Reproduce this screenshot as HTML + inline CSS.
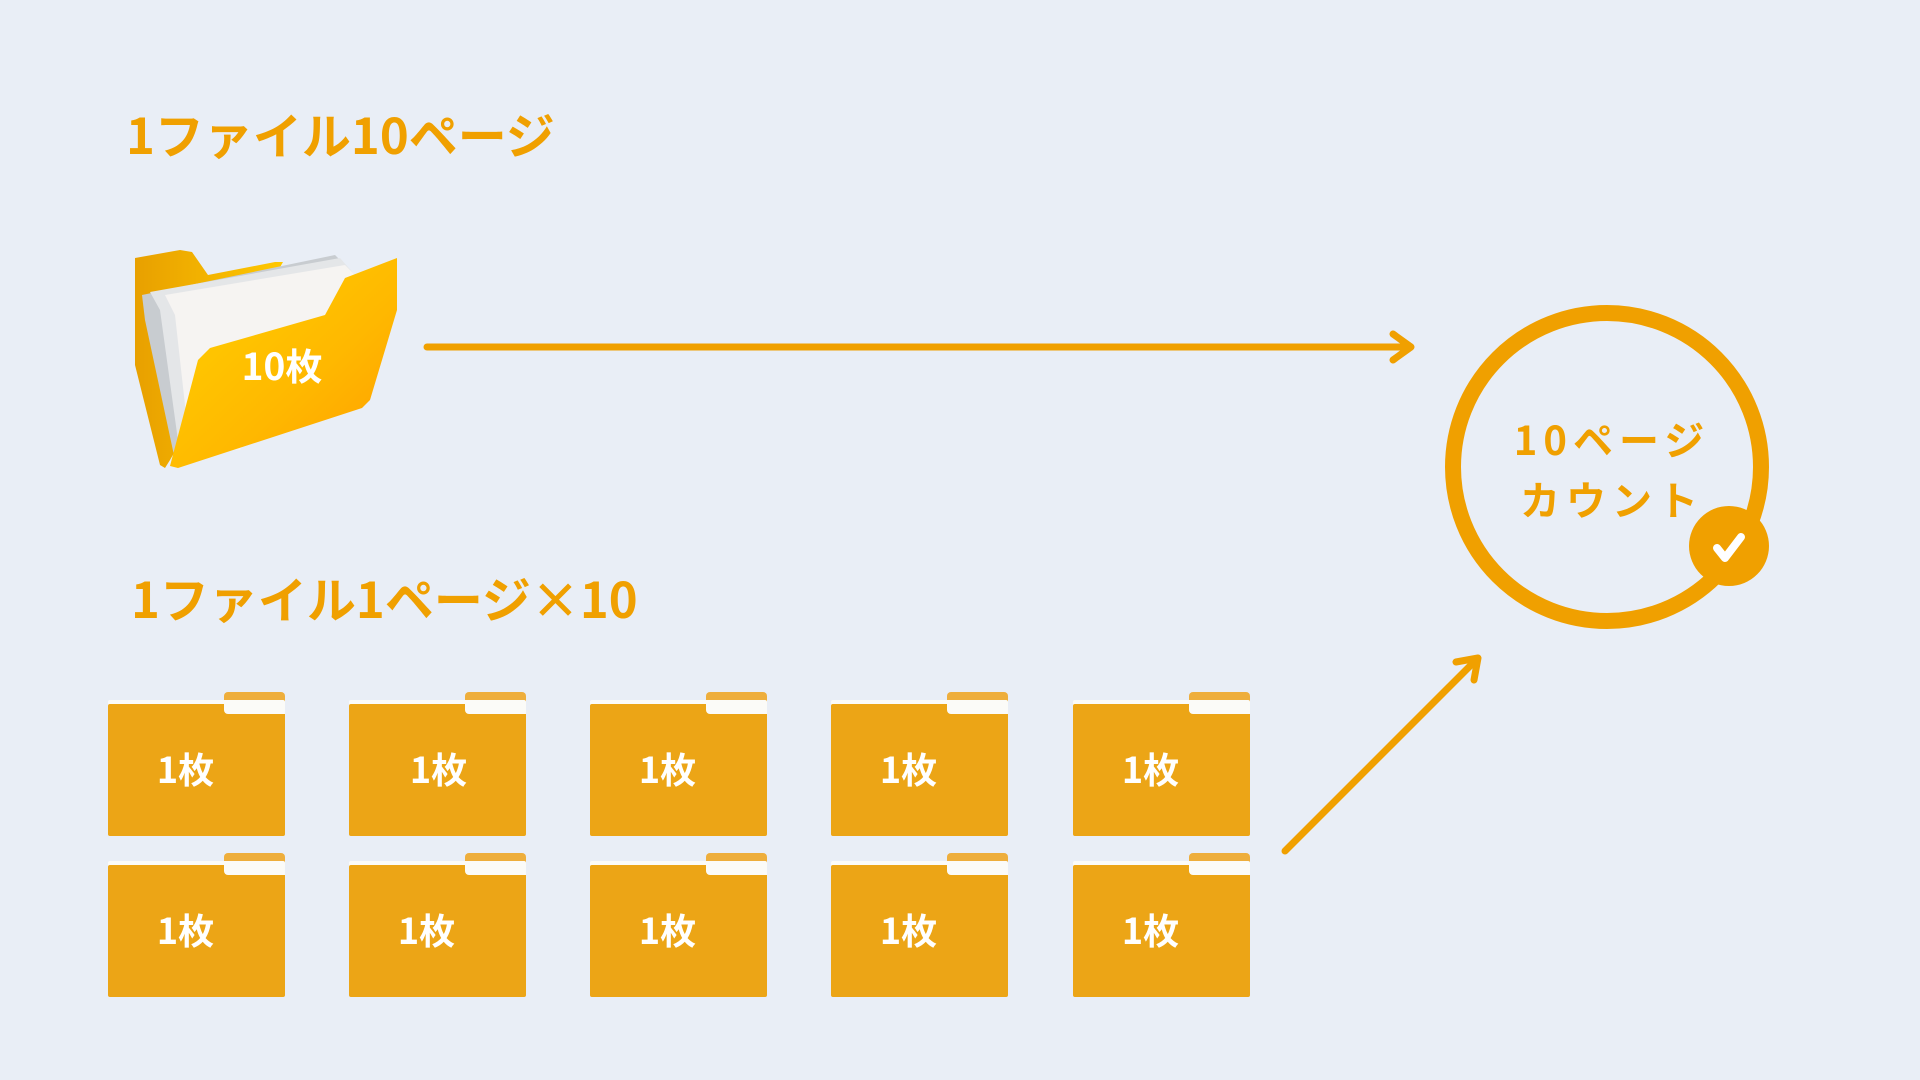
<!DOCTYPE html>
<html><head><meta charset="utf-8"><style>
html,body{margin:0;padding:0}
body{width:1920px;height:1080px;background:#e9eef6;position:relative;overflow:hidden;font-family:"Noto Sans CJK JP",sans-serif}
.t{position:absolute;color:#f0a000;font-weight:bold;white-space:nowrap;font-family:"Noto Sans CJK JP",sans-serif}
.f{position:absolute;width:177px;height:144px}
.f .tab{position:absolute;left:116px;top:0;width:61px;height:14px;background:#eeae3c;border-radius:4px 4px 0 0}
.f .pap{position:absolute;left:0;top:8px;width:177px;height:12px;background:#fbfbf8;border-radius:2px}
.f .body{position:absolute;left:0;top:12px;width:177px;height:132px;background:#eca516;border-radius:2px}
.f .body:before{content:"";position:absolute;left:116px;top:0;width:61px;height:10px;background:#fbfbf8;border-radius:0 0 0 4px}
.f .lab{position:absolute;left:14px;right:36px;top:52px;text-align:center;color:#fff;font-weight:bold;font-size:36px;line-height:48px}
</style></head><body>
<div class="t" style="left:126px;top:102px;font-size:49px;line-height:64px">1ファイル10ページ</div>
<div class="t" style="left:131px;top:566px;font-size:49px;line-height:64px">1ファイル1ページ×10</div>

<svg width="1920" height="1080" style="position:absolute;left:0;top:0">
<defs>
<linearGradient id="g1" x1="0" y1="0" x2="1" y2="1"><stop offset="0" stop-color="#ffd200"/><stop offset="0.6" stop-color="#ffb800"/><stop offset="1" stop-color="#ff9e00"/></linearGradient>
<linearGradient id="g2" x1="0" y1="0" x2="1" y2="0"><stop offset="0" stop-color="#e8a000"/><stop offset="1" stop-color="#ffc800"/></linearGradient>
</defs>
<polygon points="135,258 180,250 192,252 208,275 275,262 283,262 170,460 165,468 160,465 135,365" fill="url(#g2)"/>
<polygon points="142,295 335,255 350,270 225,450 175,460 145,320" fill="#c8ccd0"/>
<polygon points="150,292 340,258 355,275 230,450 180,455 160,310" fill="#e4e6e8"/>
<polygon points="165,295 345,265 360,280 240,450 190,450 175,315" fill="#f6f4f2"/>
<polygon points="345,278 397,258 397,310 370,400 362,408 178,468 170,466 198,360 210,348 325,315" fill="url(#g1)"/>
<text x="282" y="380" fill="#fff" font-size="37" font-weight="bold" text-anchor="middle" font-family="Noto Sans CJK JP,sans-serif">10枚</text>

<g stroke="#f0a000" stroke-width="7" fill="none" stroke-linecap="round" stroke-linejoin="round">
<line x1="427" y1="347" x2="1410" y2="347"/>
<polyline points="1393,334 1411,347 1393,360"/>
<line x1="1285" y1="851" x2="1475" y2="661"/>
<polyline points="1456,662 1478,658 1474,680"/>
</g>
<circle cx="1607" cy="467" r="154" fill="none" stroke="#f0a000" stroke-width="16"/>
<circle cx="1729" cy="546" r="40" fill="#f0a000"/>
<polyline points="1717,548 1725,558 1741,537" fill="none" stroke="#fff" stroke-width="8" stroke-linecap="round" stroke-linejoin="round"/>
<text x="1612" y="455" fill="#f0a000" font-size="40" font-weight="bold" text-anchor="middle" letter-spacing="6" font-family="Noto Sans CJK JP,sans-serif">10ページ</text>
<text x="1612" y="515" fill="#f0a000" font-size="40" font-weight="bold" text-anchor="middle" letter-spacing="6" font-family="Noto Sans CJK JP,sans-serif">カウント</text>
</svg>

<div class="f" style="left:108px;top:692px"><div class="tab"></div><div class="pap"></div><div class="body"></div><div class="lab">1枚</div></div>
<div class="f" style="left:349px;top:692px"><div class="tab"></div><div class="pap"></div><div class="body"></div><div class="lab" style="left:38px">1枚</div></div>
<div class="f" style="left:590px;top:692px"><div class="tab"></div><div class="pap"></div><div class="body"></div><div class="lab">1枚</div></div>
<div class="f" style="left:831px;top:692px"><div class="tab"></div><div class="pap"></div><div class="body"></div><div class="lab">1枚</div></div>
<div class="f" style="left:1073px;top:692px"><div class="tab"></div><div class="pap"></div><div class="body"></div><div class="lab">1枚</div></div>
<div class="f" style="left:108px;top:853px"><div class="tab"></div><div class="pap"></div><div class="body"></div><div class="lab">1枚</div></div>
<div class="f" style="left:349px;top:853px"><div class="tab"></div><div class="pap"></div><div class="body"></div><div class="lab">1枚</div></div>
<div class="f" style="left:590px;top:853px"><div class="tab"></div><div class="pap"></div><div class="body"></div><div class="lab">1枚</div></div>
<div class="f" style="left:831px;top:853px"><div class="tab"></div><div class="pap"></div><div class="body"></div><div class="lab">1枚</div></div>
<div class="f" style="left:1073px;top:853px"><div class="tab"></div><div class="pap"></div><div class="body"></div><div class="lab">1枚</div></div>
</body></html>
